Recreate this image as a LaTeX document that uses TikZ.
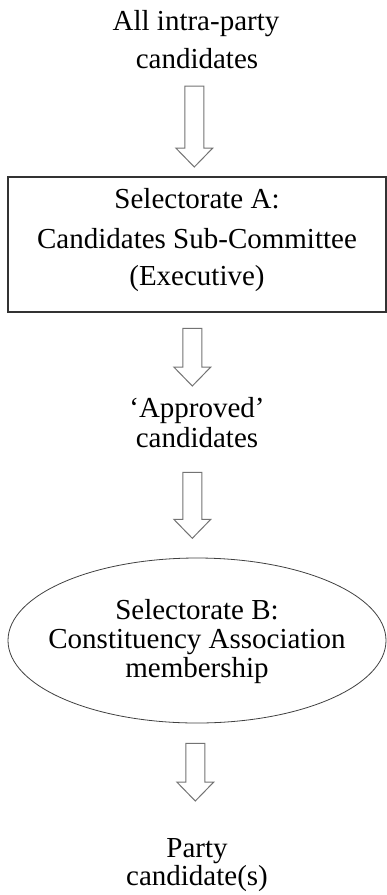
\documentclass[tikz,border=0pt]{standalone}
\usepackage{fontspec}
\setmainfont{Liberation Serif}
\usetikzlibrary{shapes.geometric}
\newcommand{\blockarr}[4]{% name, centre x, top y, tip y
  \coordinate (#1) at (#2,#3);
  \draw[arrowline] (#2-9.5,#3) -- (#2+9.5,#3) -- (#2+9.5,#4-19) -- (#2+18.5,#4-19)
    -- (#2,#4) -- (#2-18.5,#4-19) -- (#2-9.5,#4-19) -- cycle;
}
\begin{document}
\begin{tikzpicture}[x=1pt,y=-1pt,
  lbl/.style={anchor=base, inner sep=0pt, font=\fontsize{29}{34}\selectfont},
  arrowline/.style={draw=black!55, line width=1pt, fill=white},
  boxline/.style={draw=black!80, line width=1.1pt},
  ellline/.style={draw=black!75, line width=0.8pt}]
\useasboundingbox (0,0) rectangle (387,895);
% top text
\node[lbl] (t1) at (196,30) {All intra-party};
\node[lbl] (t2) at (197,68) {candidates};
\blockarr{a1}{194.3}{86}{167}
% Selectorate A box
\node[rectangle, boxline, minimum width=378pt, minimum height=135pt, inner sep=0pt] (selA) at (197,244.5) {};
\node[lbl] (sa1) at (197,208) {Selectorate A:};
\node[lbl] (sa2) at (197,248) {Candidates Sub-Committee};
\node[lbl] (sa3) at (197,285) {(Executive)};
\blockarr{a2}{192.3}{328.3}{386}
% approved
\node[lbl] (ap1) at (197,417) {‘Approved’};
\node[lbl] (ap2) at (197,447) {candidates};
\blockarr{a3}{192.3}{472.3}{538.3}
% Selectorate B ellipse
\node[ellipse, ellline, minimum width=378pt, minimum height=165pt, inner sep=0pt] (selB) at (197,640.5) {};
\node[lbl] (sb1) at (197,619) {Selectorate B:};
\node[lbl] (sb2) at (197,648) {Constituency Association};
\node[lbl] (sb3) at (197,677) {membership};
\blockarr{a4}{195.3}{743.3}{801}
% result
\node[lbl] (p1) at (197,857) {Party};
\node[lbl] (p2) at (197,885) {candidate(s)};
\end{tikzpicture}
\end{document}
